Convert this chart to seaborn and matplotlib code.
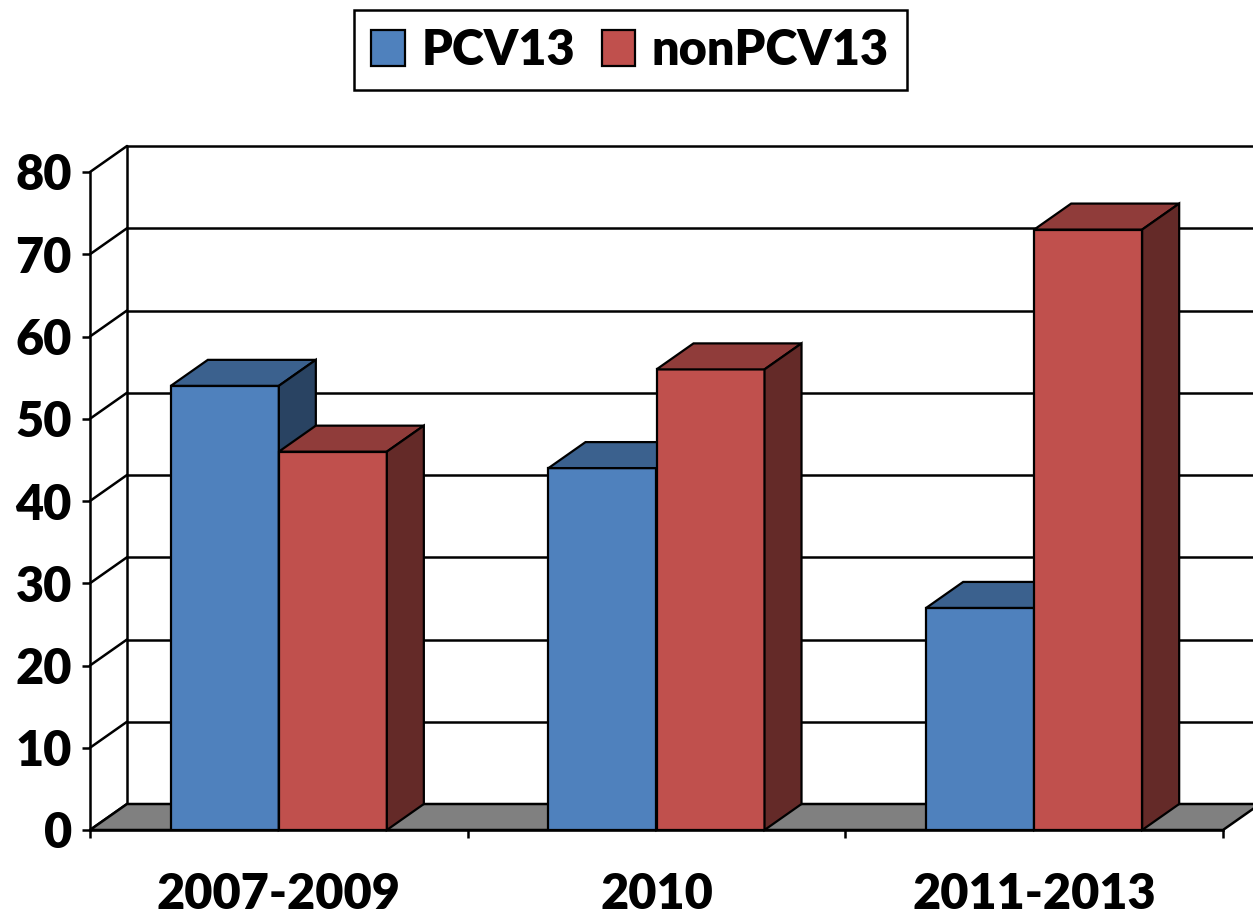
import numpy as np
import pandas as pd
import matplotlib
matplotlib.use("Agg")
import matplotlib.pyplot as plt
from matplotlib.patches import Polygon, Patch
import seaborn as sns

# --- data ---
categories = ["2007-2009", "2010", "2011-2013"]
groups = ["PCV13", "nonPCV13"]
pcv13 = [54, 44, 27]
non_pcv13 = [46, 56, 73]
y_ticks = list(range(0, 81, 10))

df = pd.DataFrame({
    "period": categories * 2,
    "group": [groups[0]] * 3 + [groups[1]] * 3,
    "value": pcv13 + non_pcv13,
})

blue = "#4F81BD"
red = "#C0504D"

sns.set_style("white")
plt.rcParams["font.family"] = ["Lato", "DejaVu Sans"]
plt.rcParams["font.weight"] = "heavy"
plt.rcParams["text.color"] = "black"
plt.rcParams["xtick.color"] = "black"
plt.rcParams["ytick.color"] = "black"

fig = plt.figure(figsize=(12.53, 9.17), dpi=100)
ax = fig.add_axes([90 / 1253, 87 / 917, 1133 / 1253, 658 / 917])

sns.barplot(data=df, x="period", y="value", hue="group", palette=[blue, red],
            width=0.572, saturation=1, edgecolor="black", linewidth=1.6,
            legend=False, ax=ax)

ax.set_xlim(-0.5, 2.5)
ax.set_ylim(0, 80)
ax.set_xlabel("")
ax.set_ylabel("")

# depth offset of the pseudo-3D box, in pixels -> data units
trans = ax.transData
p0 = trans.transform((0, 0))
ddx, ddy = trans.inverted().transform(p0 + np.array([37, 26]))

lw = 1.8
# back wall gridlines and side wall diagonals
for v in y_ticks:
    ax.plot([-0.5 + ddx, 2.5 + ddx], [v + ddy, v + ddy], color="black", lw=lw,
            zorder=0.5, clip_on=False)
    ax.plot([-0.5, -0.5 + ddx], [v, v + ddy], color="black", lw=lw,
            zorder=0.5, clip_on=False)
ax.plot([-0.5 + ddx, -0.5 + ddx], [ddy, 80 + ddy], color="black", lw=lw,
        zorder=0.5, clip_on=False)

# gray floor
floor = Polygon([(-0.5, 0), (2.5, 0), (2.5 + ddx, ddy), (-0.5 + ddx, ddy)],
                closed=True, facecolor="#808080", edgecolor="black", lw=lw,
                zorder=1, clip_on=False)
ax.add_patch(floor)


def shade(c, f):
    r, g, b = matplotlib.colors.to_rgb(c)
    return (r * f, g * f, b * f)


# top and side faces for every bar
bars = sorted([p for p in ax.patches if p is not floor and p.get_height() > 0],
              key=lambda p: p.get_x())
for k, bar in enumerate(bars):
    x0, w, h = bar.get_x(), bar.get_width(), bar.get_height()
    col = bar.get_facecolor()
    z = 3 + k
    bar.set_zorder(z)
    top = Polygon([(x0, h), (x0 + w, h), (x0 + w + ddx, h + ddy), (x0 + ddx, h + ddy)],
                  closed=True, facecolor=shade(col, 0.75), edgecolor="black",
                  lw=1.6, zorder=z, clip_on=False)
    side = Polygon([(x0 + w, 0), (x0 + w + ddx, ddy), (x0 + w + ddx, h + ddy), (x0 + w, h)],
                   closed=True, facecolor=shade(col, 0.52), edgecolor="black",
                   lw=1.6, zorder=z, clip_on=False)
    ax.add_patch(top)
    ax.add_patch(side)

# axes
for s in ["top", "right"]:
    ax.spines[s].set_visible(False)
for s in ["left", "bottom"]:
    ax.spines[s].set_color("black")
    ax.spines[s].set_linewidth(lw)

ax.set_yticks(y_ticks)
ax.set_yticklabels([str(v) for v in y_ticks])
ax.tick_params(axis="y", direction="out", length=6, width=lw, color="black",
               labelsize=35, pad=7, left=True, labelcolor="black")

ax.set_xticks([-0.5, 0.5, 1.5, 2.5])
ax.set_xticklabels([])
ax.set_xticks([0, 1, 2], minor=True)
ax.set_xticklabels(categories, minor=True)
ax.tick_params(axis="x", which="major", direction="out", length=6, width=lw,
               color="black", bottom=True)
ax.tick_params(axis="x", which="minor", length=0, labelsize=35, pad=30,
               labelcolor="black")
for t in ax.get_xticklabels(minor=True) + ax.get_yticklabels():
    t.set_fontweight("heavy")

# legend
handles = [Patch(facecolor=blue, edgecolor="black", lw=1.6, label=groups[0]),
           Patch(facecolor=red, edgecolor="black", lw=1.6, label=groups[1])]
leg = fig.legend(handles=handles, loc="center", bbox_to_anchor=(0.503, 0.945),
                 ncol=2, frameon=True, fancybox=False, framealpha=1, fontsize=35,
                 handlelength=0.68, handleheight=0.78, handletextpad=0.35,
                 columnspacing=0.55, borderpad=0.36, borderaxespad=0)
leg.get_frame().set_edgecolor("black")
leg.get_frame().set_linewidth(lw)
for t in leg.get_texts():
    t.set_fontweight("heavy")
    t.set_color("black")

fig.savefig("out.png", dpi=100)
